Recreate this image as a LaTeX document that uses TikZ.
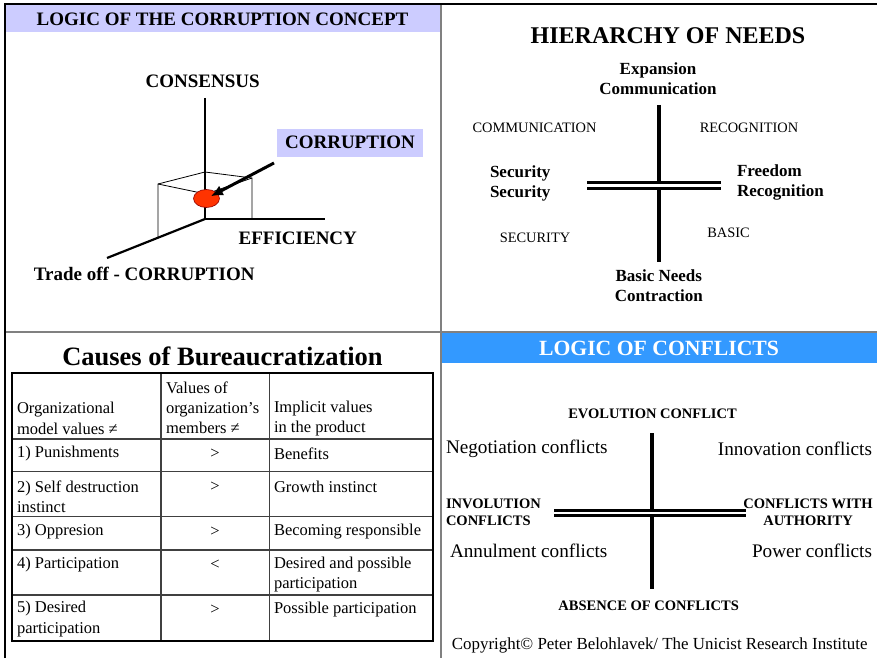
\documentclass[tikz,border=0pt]{standalone}
\usepackage{fontspec}
\setmainfont{Liberation Serif}
\usetikzlibrary{arrows.meta,shapes.geometric}
\definecolor{lavender}{HTML}{CCCCFF}
\definecolor{headblue}{HTML}{3399FF}
\definecolor{ballred}{HTML}{FF3300}
\definecolor{divgray}{HTML}{808080}

\tikzset{
  every node/.style={inner sep=0pt, outer sep=0pt},
  capsB/.style={font=\bfseries\fontsize{19}{22}\selectfont},
  needB/.style={font=\bfseries\fontsize{17}{20}\selectfont},
  quad/.style={font=\fontsize{14.4}{17}\selectfont},
  cell/.style={font=\fontsize{16.5}{20.3}\selectfont, align=left, anchor=west},
  sym/.style={font=\fontsize{16.5}{20}\selectfont},
  conf/.style={font=\fontsize{19.2}{23}\selectfont},
  confB/.style={font=\bfseries\fontsize{14.5}{17.3}\selectfont},
  axis/.style={line width=2.2pt},
  boxline/.style={line width=0.8pt},
  bigbar/.style={line width=4pt},
  rail/.style={double, double distance=2.6pt},
  tabouter/.style={line width=2pt},
  tabinner/.style={line width=1.2pt, black!75},
}

\begin{document}
\begin{tikzpicture}[x=1pt,y=-1pt]
\useasboundingbox (0,0) rectangle (877,658);

% header bands
\fill[lavender] (6,5) rectangle (440,32);
\fill[headblue] (441,333) rectangle (877,363);

% panel dividers and frame
\draw[divgray, line width=2pt] (441,5) -- (441,658);
\draw[divgray, line width=2pt] (5,332) -- (877,332);
\draw[black, line width=2pt] (5,658) -- (5,4) -- (877,4);

% ---------- corruption concept ----------
\node[font=\bfseries\fontsize{19}{22}\selectfont] (tlhead) at (222.5,19) {LOGIC OF THE CORRUPTION CONCEPT};

\coordinate (o) at (205,219);
\coordinate (ztop) at (205,98);
\coordinate (xend) at (325,219);
\coordinate (yend) at (107,258);
\coordinate (bl) at (158,184);
\coordinate (bb) at (205,172);
\coordinate (br) at (252,178);
\coordinate (bf) at (206,194);
\coordinate (blb) at (158,237.7);
\coordinate (brb) at (252,219);

\draw[boxline] (blb) -- (bl) -- (bb) -- (br) -- (brb);
\draw[boxline] (bl) -- (bf) -- (br);
\draw[axis] (ztop) -- (o) -- (xend);
\draw[axis] (o) -- (yend);

\node[ellipse, fill=ballred, draw=red!55!black, line width=0.6pt,
      minimum width=26pt, minimum height=18pt] (ball) at (206.5,198.5) {};

\node[capsB, fill=lavender, minimum width=146pt, minimum height=28pt] (corr) at (350,142.5) {CORRUPTION};
\coordinate (arrtail) at (274,163);
\draw[line width=3pt, -{Latex[length=12pt,width=11pt]}, shorten >=5pt] (arrtail) -- (ball.center);

\node[capsB] (consensus) at (202.7,81.7) {CONSENSUS};
\node[capsB] (eff) at (297.8,238) {EFFICIENCY};
\node[capsB] (trade) at (144.2,274) {Trade off - CORRUPTION};

% ---------- hierarchy of needs ----------
\node[font=\bfseries\fontsize{24}{28}\selectfont] (hier) at (668,36) {HIERARCHY OF NEEDS};
\node[needB, align=center] (topn) at (658,78.3) {Expansion\\Communication};
\node[needB, align=center] (botn) at (658.8,285.5) {Basic Needs\\Contraction};
\node[needB, align=left, anchor=west] (leftn) at (490,183.3) {Security\\Security};
\node[needB, align=left, anchor=west] (rightn) at (737,182.5) {Freedom\\Recognition};

\node[quad] (qcomm) at (534.5,127.5) {COMMUNICATION};
\node[quad] (qrec) at (749,127.5) {RECOGNITION};
\node[quad] (qsec) at (535,237.5) {SECURITY};
\node[quad] (qbas) at (728.5,233) {BASIC};

\coordinate (hv1) at (659,105);
\coordinate (hv2) at (659,262);
\coordinate (hh1) at (587,185.5);
\coordinate (hh2) at (721,185.5);
\draw[bigbar] (hv1) -- (hv2);
\draw[line width=3pt, rail] (hh1) -- (hh2);

% ---------- causes of bureaucratization ----------
\node[font=\bfseries\fontsize{26.5}{30}\selectfont] (causes) at (222.5,356.7) {Causes of Bureaucratization};

\coordinate (t1) at (12,373);
\coordinate (t2) at (433,641);
\foreach \yy in {439,471.7,516.7,550,595}
  \draw[tabinner] (12,\yy) -- (433,\yy);
\draw[tabinner] (161,373) -- (161,641);
\draw[tabinner] (269.3,373) -- (269.3,641);
\draw[tabouter] (t1) rectangle (t2);

\node[cell] (h1) at (17,418.3) {Organizational\\model values ≠};
\node[cell] (h2) at (166,407.8) {Values of\\organization’s\\members ≠};
\node[cell] (h3) at (274,418.3) {Implicit values\\in the product};

\node[cell] (r1a) at (17,454) {1) Punishments};
\node[sym] (r1b) at (215,454) {>};
\node[cell] (r1c) at (274,454) {Benefits};

\node[cell] (r2a) at (17,496.5) {2) Self destruction\\instinct};
\node[sym] (r2b) at (215,487) {>};
\node[cell] (r2c) at (274,487) {Growth instinct};

\node[cell] (r3a) at (17,532) {3) Oppresion};
\node[sym] (r3b) at (215,532) {>};
\node[cell] (r3c) at (274,532) {Becoming responsible};

\node[cell] (r4a) at (17,565) {4) Participation};
\node[sym] (r4b) at (215,565) {<};
\node[cell] (r4c) at (274,574.5) {Desired and possible\\participation};

\node[cell] (r5a) at (17,619) {5) Desired\\participation};
\node[sym] (r5b) at (215,609.5) {>};
\node[cell] (r5c) at (274,609.5) {Possible participation};

% ---------- logic of conflicts ----------
\node[font=\bfseries\fontsize{21.7}{26}\selectfont, text=white] (conhead) at (659,348.3) {LOGIC OF CONFLICTS};

\node[confB] (evo) at (652.5,414.2) {EVOLUTION CONFLICT};
\node[confB] (abs) at (648.7,605.3) {ABSENCE OF CONFLICTS};
\node[confB, align=left, anchor=west] (invo) at (446,512) {INVOLUTION\\CONFLICTS};
\node[confB, align=center] (auth) at (808,512.2) {CONFLICTS WITH\\AUTHORITY};

\node[conf, anchor=west] (nego) at (446,449) {Negotiation conflicts};
\node[conf, anchor=east] (inno) at (872,449) {Innovation conflicts};
\node[conf, anchor=west] (annu) at (450,551) {Annulment conflicts};
\node[conf, anchor=east] (powr) at (872,551) {Power conflicts};

\coordinate (cv1) at (652,433);
\coordinate (cv2) at (652,589);
\coordinate (ch1) at (554,512.8);
\coordinate (ch2) at (746,512.8);
\draw[line width=3.5pt] (cv1) -- (cv2);
\draw[line width=2.6pt, double, double distance=2.3pt] (ch1) -- (ch2);

\node[font=\fontsize{16.9}{20}\selectfont] (copy) at (659.7,645) {Copyright© Peter Belohlavek/ The Unicist Research Institute};
\end{tikzpicture}
\end{document}
